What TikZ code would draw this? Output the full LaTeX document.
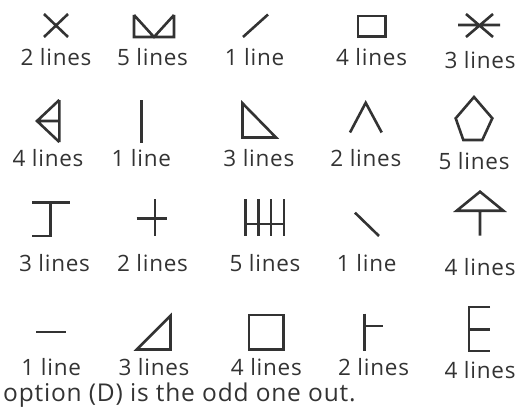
\documentclass[tikz,border=0pt]{standalone}
\usepackage{fontspec}
\setmainfont{Open Sans}
\newfontfamily\lblfont[LetterSpace=3.3]{Open Sans}
\definecolor{ink}{HTML}{333333}
\begin{document}
\begin{tikzpicture}[x=1pt,y=-1pt,
  shp/.style={draw=ink,line width=2.6pt,line cap=butt,line join=miter},
  lbl/.style={anchor=base,inner sep=0pt,text=ink,font=\lblfont\fontsize{22.5}{27}\selectfont},
  note/.style={anchor=base west,inner sep=0pt,text=ink,font=\lblfont\fontsize{24.5}{29}\selectfont}]
\useasboundingbox (0,0) rectangle (522,412);
% ---- row 1 shapes
\draw[shp] (44,14)--(68,37) (68,14)--(44,37);
\draw[shp] (134,15)--(134,37)--(174,37)--(174,15) (134,15)--(154,37)--(174,15);
\draw[shp] (243,37)--(268,14.5);
\draw[shp] (358,16) rectangle (385.5,36.5);
\draw[shp] (458,25)--(500,25) (466,14)--(493,37) (493,14)--(466,37);
% ---- row 2 shapes
\draw[shp] (59.3,100)--(59.3,142) (59.3,100)--(37,121)--(59.3,142) (37,121)--(59.3,121);
\draw[shp] (141.7,100)--(141.7,142.5);
\draw[shp] (242.5,103.3)--(242.5,137.5)--(276,137.5)--cycle;
\draw[shp] (350,132.5)--(365.7,102.8)--(381.7,132.5);
\draw[shp] (474,97)--(492.3,118.3)--(482.3,140)--(463.3,140)--(455.7,118.3)--cycle;
% ---- row 3 shapes
\draw[shp] (32.3,202.3)--(70,202.3) (50.7,202.3)--(50.7,236)--(32.3,236);
\draw[shp] (136.7,218.3)--(166.7,218.3) (155,199.3)--(155,235.7);
\draw[shp] (245.7,199.3)--(245.7,235.7) (258.3,199.3)--(258.3,235.7)
           (271,199.3)--(271,235.7) (284,199.3)--(284,235.7)
           (245.7,223.8)--(284,223.8);
\draw[shp] (355,212.7)--(379,236);
\draw[shp] (456.7,210.7)--(480,191.7)--(503.3,210.7)--cycle (480,210.7)--(480,235.7);
% ---- row 4 shapes
\draw[shp] (36,332)--(65.7,332);
\draw[shp] (136.7,349.5)--(170.5,315.8)--(170.5,349.5)--cycle;
\draw[shp] (249,315) rectangle (283.3,349.3);
\draw[shp] (364.2,313.5)--(364.2,350.5) (364.2,326)--(382.7,326);
\draw[shp] (490,307)--(469,307)--(469,351)--(490,351) (469,329.3)--(490,329.3);
% ---- labels
\node[lbl] (l11) at (56,65.5) {2 lines};
\node[lbl] (l12) at (152.5,65.5) {5 lines};
\node[lbl] (l13) at (254.5,65.5) {1 line};
\node[lbl] (l14) at (371.5,65.5) {4 lines};
\node[lbl] (l15) at (480,68) {3 lines};
\node[lbl] (l21) at (48,166) {4 lines};
\node[lbl] (l22) at (141.3,166) {1 line};
\node[lbl] (l23) at (258.8,166) {3 lines};
\node[lbl] (l24) at (365.8,166) {2 lines};
\node[lbl] (l25) at (474,169.5) {5 lines};
\node[lbl] (l31) at (54.5,271) {3 lines};
\node[lbl] (l32) at (152.5,271) {2 lines};
\node[lbl] (l33) at (265,271) {5 lines};
\node[lbl] (l34) at (366.7,271) {1 line};
\node[lbl] (l35) at (480,275) {4 lines};
\node[lbl] (l41) at (51.2,375.5) {1 line};
\node[lbl] (l42) at (154,375.5) {3 lines};
\node[lbl] (l43) at (266.3,375.5) {4 lines};
\node[lbl] (l44) at (373.5,375.5) {2 lines};
\node[lbl] (l45) at (480,378) {4 lines};
\node[note] (ans) at (3,401) {option (D) is the odd one out.};
\end{tikzpicture}
\end{document}
